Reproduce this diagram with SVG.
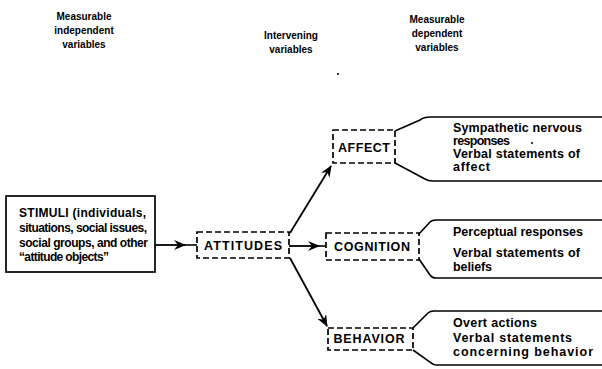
<svg xmlns="http://www.w3.org/2000/svg" width="602" height="369" viewBox="0 0 602 369">
<style>
.t{font-family:"Liberation Sans",Arial,sans-serif;font-weight:bold;fill:#000}
.h{font-size:10px;text-anchor:middle}
.m{font-size:12px}
.r{font-size:12.5px}
.c{font-size:12.5px;text-anchor:middle}
.box{fill:none;stroke:#000;stroke-width:1.7}
.dash{fill:none;stroke:#000;stroke-width:1.7;stroke-dasharray:6 3}
.ln{fill:none;stroke:#000;stroke-width:1.6}
.ar{fill:none;stroke:#000;stroke-width:1.8;marker-end:url(#ah)}
</style>
<defs>
<marker id="ah" markerUnits="userSpaceOnUse" markerWidth="12" markerHeight="10" viewBox="0 0 12 10" refX="11" refY="5" orient="auto">
<path d="M0,0 L12,5 L0,10 L4,5 z" fill="#000"/>
</marker>
</defs>
<g id="headers">
<text class="t h" x="84" y="20">Measurable</text>
<text class="t h" x="84" y="34">independent</text>
<text class="t h" x="84" y="48">variables</text>
<text class="t h" x="291" y="39">Intervening</text>
<text class="t h" x="291" y="53">variables</text>
<text class="t h" x="437" y="23">Measurable</text>
<text class="t h" x="437" y="37">dependent</text>
<text class="t h" x="437" y="51">variables</text>
<circle cx="338" cy="74" r="1.1" fill="#000"/>
</g>
<g id="stimuli">
<rect class="box" x="6" y="196" width="149" height="76"/>
<text class="t m" x="19" y="217" textLength="127">STIMULI (individuals,</text>
<text class="t m" x="19" y="232" textLength="128">situations, social issues,</text>
<text class="t m" x="19" y="247" textLength="129">social groups, and other</text>
<text class="t m" x="19" y="261" textLength="90">“attitude objects”</text>
</g>
<g id="attitudes">
<rect class="dash" x="197" y="232" width="92" height="26"/>
<text class="t c" x="243" y="250" textLength="78">ATTITUDES</text>
</g>
<g id="affect">
<rect class="dash" x="333" y="130" width="62" height="33"/>
<text class="t c" x="364" y="152" textLength="52">AFFECT</text>
</g>
<g id="cognition">
<rect class="dash" x="326" y="233" width="93" height="27"/>
<text class="t c" x="372" y="251" textLength="76">COGNITION</text>
</g>
<g id="behavior">
<rect class="dash" x="328" y="328" width="85" height="22"/>
<text class="t c" x="369" y="343" textLength="71">BEHAVIOR</text>
</g>
<g id="affect-responses">
<text class="t r" x="453" y="132" textLength="129">Sympathetic nervous</text>
<text class="t r" x="453" y="145" textLength="57">responses</text>
<circle cx="532" cy="143" r="1" fill="#000"/>
<text class="t r" x="453" y="158" textLength="127">Verbal statements of</text>
<text class="t r" x="453" y="171" textLength="37">affect</text>
</g>
<g id="cognition-responses">
<text class="t r" x="453" y="236" textLength="130">Perceptual responses</text>
<text class="t r" x="453" y="257" textLength="127">Verbal statements of</text>
<text class="t r" x="453" y="271" textLength="39">beliefs</text>
</g>
<g id="behavior-responses">
<text class="t r" x="453" y="327" textLength="84">Overt actions</text>
<text class="t r" x="453" y="342" textLength="119">Verbal statements</text>
<text class="t r" x="453" y="356" textLength="140">concerning behavior</text>
</g>
<g id="connectors">
<path class="ar" d="M155,245 L185,245"/>
<path class="ln" d="M183,245 L197,245"/>
<path class="ar" d="M289,246 L319,246"/>
<path class="ln" d="M317,246 L326,246"/>
<path class="ar" d="M290,233 L331,166"/>
<path class="ar" d="M290,258 L327,326"/>
<path class="ln" d="M395,131 L420,120 Q424,117 430,117 L602,117"/>
<path class="ln" d="M395,163 L425,179 Q428,181 433,181 L602,181"/>
<path class="ln" d="M419,234 L430,222 Q432,220 436,220 L602,220"/>
<path class="ln" d="M419,259 L430,275 Q432,278 436,278 L602,278"/>
<path class="ln" d="M413,328 L428,313 Q430,311 434,311 L602,311"/>
<path class="ln" d="M413,350 L430,362 Q433,365 437,365 L602,365"/>
</g>
</svg>
